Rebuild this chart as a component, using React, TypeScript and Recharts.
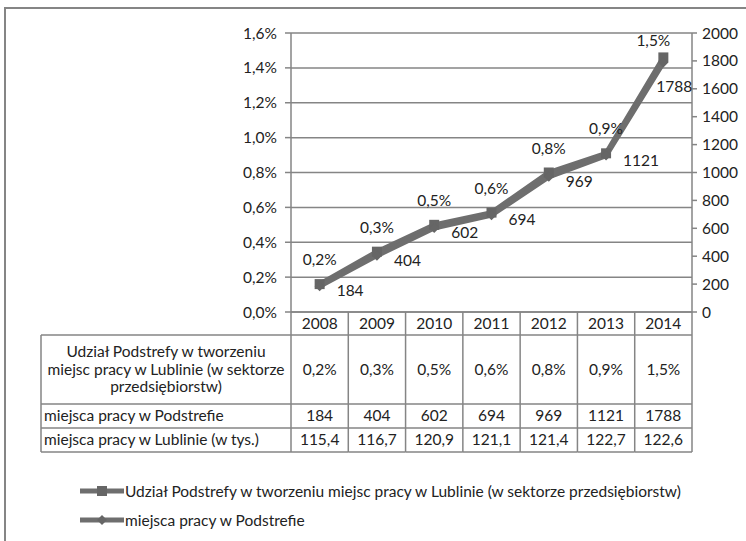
import React from 'react';
import { LineChart, Line, XAxis, YAxis, CartesianGrid, Legend, LabelList } from 'recharts';

const years = ['2008', '2009', '2010', '2011', '2012', '2013', '2014'];
const zoneShare = [0.16, 0.346, 0.5, 0.57, 0.8, 0.91, 1.46];
const zoneJobs = [184, 404, 602, 694, 969, 1121, 1788];
const lublinJobs = [115.4, 116.7, 120.9, 121.1, 121.4, 122.7, 122.6];
const shareTicks = [0, 0.2, 0.4, 0.6, 0.8, 1.0, 1.2, 1.4, 1.6];
const jobsTicks = [0, 200, 400, 600, 800, 1000, 1200, 1400, 1600, 1800, 2000];

const SHARE_NAME = 'Udział Podstrefy w tworzeniu miejsc pracy w Lublinie (w sektorze przedsiębiorstw)';
const shareRowLines = ['Udział Podstrefy w tworzeniu', 'miejsc pracy w Lublinie (w sektorze', 'przedsiębiorstw)'];
const JOBS_NAME = 'miejsca pracy w Podstrefie';
const LUBLIN_NAME = 'miejsca pracy w Lublinie (w tys.)';

const data = years.map((year, i) => ({
  year,
  share: zoneShare[i],
  jobs: zoneJobs[i],
  lublin: lublinJobs[i],
}));

// layout
const W = 746;
const H = 541;
const PLOT_LEFT = 291;
const PLOT_RIGHT = 692;
const TABLE_LEFT = 41;
const LEGEND_H = 60;
const ROW_H = [23, 69, 24, 24];

const GREY = '#858585';
const LINE_GREY = '#6e6e6e';
const TEXT = '#222';
const FONT = 'Lato, "Open Sans", sans-serif';
const FS = 15.5;

const comma = (v: number) => v.toFixed(1).replace('.', ',');
const fmtPct = (v: number) => `${comma(v)}%`;

const TableTick = (props: any) => {
  const { x, y, index, payload } = props;
  const w = (PLOT_RIGHT - PLOT_LEFT) / years.length;
  const l = x - w / 2;
  const r = x + w / 2;
  const rowY = ROW_H.reduce<number[]>((acc, h) => [...acc, acc[acc.length - 1] + h], [y]);
  const total = rowY[rowY.length - 1];
  const row = data[index];
  const cells = [payload.value, fmtPct(row.share), String(row.jobs), comma(row.lublin)];
  return (
    <g>
      <line x1={r} y1={y} x2={r} y2={total} stroke={GREY} strokeWidth={1.5} />
      {index === 0 && <line x1={l} y1={y} x2={l} y2={total} stroke={GREY} strokeWidth={1.5} />}
      {rowY.slice(1).map((ry, k) => (
        <line key={k} x1={index === 0 ? TABLE_LEFT : l} y1={ry} x2={r} y2={ry} stroke={GREY} strokeWidth={1.5} />
      ))}
      {cells.map((c, k) => (
        <text key={k} x={x} y={(rowY[k] + rowY[k + 1]) / 2 + 5} textAnchor="middle" fill={TEXT} fontSize={FS}>
          {c}
        </text>
      ))}
      {index === 0 && (
        <g>
          <line x1={TABLE_LEFT} y1={rowY[1]} x2={TABLE_LEFT} y2={total} stroke={GREY} strokeWidth={1.5} />
          {shareRowLines.map((t, k) => (
            <text key={k} x={(TABLE_LEFT + l) / 2} y={rowY[1] + 22 + k * 17.5} textAnchor="middle" fill={TEXT} fontSize={FS}>
              {t}
            </text>
          ))}
          <text x={TABLE_LEFT + 3} y={(rowY[2] + rowY[3]) / 2 + 5} fill={TEXT} fontSize={FS}>{JOBS_NAME}</text>
          <text x={TABLE_LEFT + 3} y={(rowY[3] + rowY[4]) / 2 + 5} fill={TEXT} fontSize={FS}>{LUBLIN_NAME}</text>
        </g>
      )}
    </g>
  );
};

const SquareDot = (props: any) => {
  const { cx, cy } = props;
  return <rect x={cx - 5} y={cy - 5} width={10} height={10} fill="#666" />;
};

const DiamondDot = (props: any) => {
  const { cx, cy } = props;
  return <polygon points={`${cx},${cy - 5} ${cx + 5},${cy} ${cx},${cy + 5} ${cx - 5},${cy}`} fill="#666" />;
};

const ShareLabel = (props: any) => {
  const { x, y, value, index } = props;
  const last = index === years.length - 1;
  return (
    <text x={last ? x - 10 : x} y={last ? y - 11 : y - 19} textAnchor="middle" fill={TEXT} fontSize={FS}>
      {fmtPct(value)}
    </text>
  );
};

const JobsLabel = (props: any) => {
  const { x, y, value, index } = props;
  const last = index === years.length - 1;
  return (
    <text x={last ? x - 7 : x + 17} y={last ? y + 29 : y + 10} fill={TEXT} fontSize={FS}>
      {value}
    </text>
  );
};

const renderLegend = (props: any) => {
  const { payload } = props;
  return (
    <div style={{ height: LEGEND_H, paddingLeft: 80, fontFamily: FONT, fontSize: FS, color: TEXT }}>
      {(payload || []).map((entry: any) => {
        const key = entry.dataKey ?? entry.payload?.dataKey;
        return (
          <div key={entry.value} style={{ height: 29, display: 'flex', alignItems: 'center' }}>
            <svg width={44} height={12} style={{ marginRight: 1 }}>
              <line x1={0} y1={6} x2={44} y2={6} stroke={LINE_GREY} strokeWidth={5} />
              {key === 'share' ? (
                <rect x={17} y={1} width={10} height={10} fill="#666" />
              ) : (
                <polygon points="22,1 27,6 22,11 17,6" fill="#666" />
              )}
            </svg>
            <span>{entry.value}</span>
          </div>
        );
      })}
    </div>
  );
};

export default function App() {
  return (
    <div style={{ position: 'absolute', left: 0, top: 0, width: W, height: H, background: '#fff', overflow: 'hidden', fontFamily: FONT }}>
      <div style={{ position: 'absolute', left: 4, top: 7, width: 900, height: 900, borderLeft: `2px solid ${GREY}`, borderTop: `2px solid ${GREY}` }} />
      <LineChart width={W} height={H} data={data} margin={{ top: 33, right: 4, left: 231, bottom: 0 }}>
        <CartesianGrid yAxisId="share" vertical={false} stroke={GREY} strokeWidth={1.5} />
        <XAxis
          dataKey="year"
          scale="band"
          height={169}
          interval={0}
          tickSize={0}
          tickMargin={0}
          tickLine={false}
          axisLine={{ stroke: GREY, strokeWidth: 1.5 }}
          tick={<TableTick />}
        />
        <YAxis
          yAxisId="share"
          domain={[0, 1.6]}
          ticks={shareTicks}
          tickFormatter={fmtPct}
          width={60}
          tickSize={6}
          tickMargin={8}
          axisLine={{ stroke: GREY, strokeWidth: 1.5 }}
          tickLine={{ stroke: GREY, strokeWidth: 1.5 }}
          tick={{ fill: TEXT, fontSize: FS }}
        />
        <YAxis
          yAxisId="jobs"
          orientation="right"
          domain={[0, 2000]}
          ticks={jobsTicks}
          width={50}
          tickSize={5}
          tickMargin={5}
          axisLine={{ stroke: GREY, strokeWidth: 1.5 }}
          tickLine={{ stroke: GREY, strokeWidth: 1.5 }}
          tick={{ fill: TEXT, fontSize: FS }}
        />
        <Legend
          verticalAlign="bottom"
          content={renderLegend}
          wrapperStyle={{ left: 0, top: 476, bottom: 'auto', width: W, height: LEGEND_H }}
        />
        <Line
          yAxisId="share"
          dataKey="share"
          name={SHARE_NAME}
          stroke={LINE_GREY}
          strokeWidth={5}
          dot={<SquareDot />}
          activeDot={false}
          isAnimationActive={false}
        >
          <LabelList dataKey="share" content={<ShareLabel />} />
        </Line>
        <Line
          yAxisId="jobs"
          dataKey="jobs"
          name={JOBS_NAME}
          stroke={LINE_GREY}
          strokeWidth={5}
          dot={<DiamondDot />}
          activeDot={false}
          isAnimationActive={false}
        >
          <LabelList dataKey="jobs" content={<JobsLabel />} />
        </Line>
      </LineChart>
    </div>
  );
}
